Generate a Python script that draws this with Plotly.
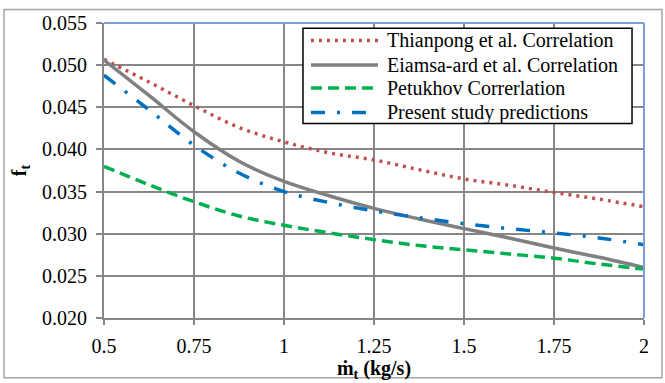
import plotly.graph_objects as go

# Mass flow rate (kg/s)
mass_flow = [0.5, 0.625, 0.75, 0.875, 1.0, 1.125, 1.25, 1.375, 1.5, 1.625, 1.75, 1.875, 2.0]

# Friction factor f_t for each source
thianpong = [0.0507, 0.0480, 0.0452, 0.0426, 0.0409, 0.0396, 0.03875, 0.0376, 0.0365, 0.03575, 0.0349, 0.0341, 0.0332]
eiamsa_ard = [0.0506, 0.0464, 0.0421, 0.0386, 0.0362, 0.0345, 0.0330, 0.03175, 0.0306, 0.0295, 0.0283, 0.0272, 0.0260]
petukhov = [0.0380, 0.0358, 0.0338, 0.0321, 0.0310, 0.0301, 0.0293, 0.0286, 0.0281, 0.0276, 0.0271, 0.0264, 0.0258]
present_study = [0.0488, 0.0447, 0.0405, 0.0372, 0.0350, 0.0337, 0.0327, 0.0319, 0.0312, 0.0306, 0.0301, 0.0295, 0.0287]

series_names = [
    "Thianpong et al. Correlation",
    "Eiamsa-ard et al. Correlation",
    "Petukhov Correrlation",
    "Present study predictions",
]
series_values = [thianpong, eiamsa_ard, petukhov, present_study]
series_colors = ["#C0504D", "#808080", "#00B050", "#0070C0"]
series_dashes = ["3px,5px", "solid", "11px,6px", "14px,12px,3px,12px"]

x_ticks = [0.5, 0.75, 1, 1.25, 1.5, 1.75, 2]
x_tick_text = ["0.5", "0.75", "1", "1.25", "1.5", "1.75", "2"]
y_ticks = [0.020, 0.025, 0.030, 0.035, 0.040, 0.045, 0.050, 0.055]
y_tick_text = ["0.020", "0.025", "0.030", "0.035", "0.040", "0.045", "0.050", "0.055"]

FONT = "Liberation Serif"
GRID = "#878787"
FRAME_BLUE = "#7A9FD3"
TXT = dict(family=FONT, size=20, color="black")
LEG_TXT = dict(family=FONT, size=20, color="black")

fig = go.Figure()
for name, vals, col, dash in zip(series_names, series_values, series_colors, series_dashes):
    fig.add_trace(go.Scatter(
        x=mass_flow, y=vals, name=name, mode="lines",
        line=dict(color=col, width=3.5, dash=dash, shape="spline", smoothing=1.0),
        showlegend=False,
    ))

shapes = [
    # blue frame on top and right of the plotting area
    dict(type="line", xref="paper", yref="paper", x0=0, x1=1, y0=1, y1=1,
         line=dict(color=FRAME_BLUE, width=2)),
    dict(type="line", xref="paper", yref="paper", x0=1, x1=1, y0=0, y1=1,
         line=dict(color=FRAME_BLUE, width=2)),
    # outer chart border
    dict(type="rect", xref="paper", yref="paper", x0=-0.1852, x1=1.0333, y0=-0.2027, y1=1.0457,
         line=dict(color="#A6A6A6", width=1.5), layer="below"),
    # legend box
    dict(type="rect", xref="paper", yref="paper", x0=0.3685, x1=0.9778, y0=0.659, y1=0.9823,
         line=dict(color="black", width=1.5), fillcolor="white", layer="above"),
]
annotations = []
row_y = [0.9407, 0.8580, 0.7800, 0.6967]
for name, col, dash, ry in zip(series_names, series_colors, series_dashes, row_y):
    shapes.append(dict(type="line", xref="paper", yref="paper", x0=0.3833, x1=0.5074, y0=ry, y1=ry,
                       line=dict(color=col, width=3.5, dash=dash), layer="above"))
    annotations.append(dict(xref="paper", yref="paper", x=0.521, y=ry, text=name, showarrow=False,
                            xanchor="left", yanchor="middle", font=LEG_TXT))

fig.update_layout(
    width=665, height=383,
    margin=dict(l=104, r=21, t=21, b=62),
    paper_bgcolor="white", plot_bgcolor="white",
    font=TXT,
    shapes=shapes, annotations=annotations,
    xaxis=dict(
        range=[0.5, 2], tickvals=x_ticks, ticktext=x_tick_text, tickfont=TXT,
        showgrid=True, gridcolor=GRID, gridwidth=1.5,
        showline=True, linecolor=GRID, linewidth=2,
        ticks="outside", ticklen=5, tickcolor=GRID, tickwidth=1.5,
        zeroline=False, ticklabelstandoff=4,
        title=dict(text="<b>ṁ<sub>t</sub> (kg/s)</b>", font=TXT, standoff=0),
    ),
    yaxis=dict(
        range=[0.020, 0.055], tickvals=y_ticks, ticktext=y_tick_text, tickfont=TXT,
        showgrid=True, gridcolor=GRID, gridwidth=1.5,
        showline=True, linecolor=GRID, linewidth=2,
        ticks="outside", ticklen=6, tickcolor=GRID, tickwidth=1.5,
        zeroline=False, ticklabelstandoff=5,
        title=dict(text="<b>f<sub>t</sub></b>", font=TXT, standoff=10),
    ),
)

fig.write_html("out.html")
